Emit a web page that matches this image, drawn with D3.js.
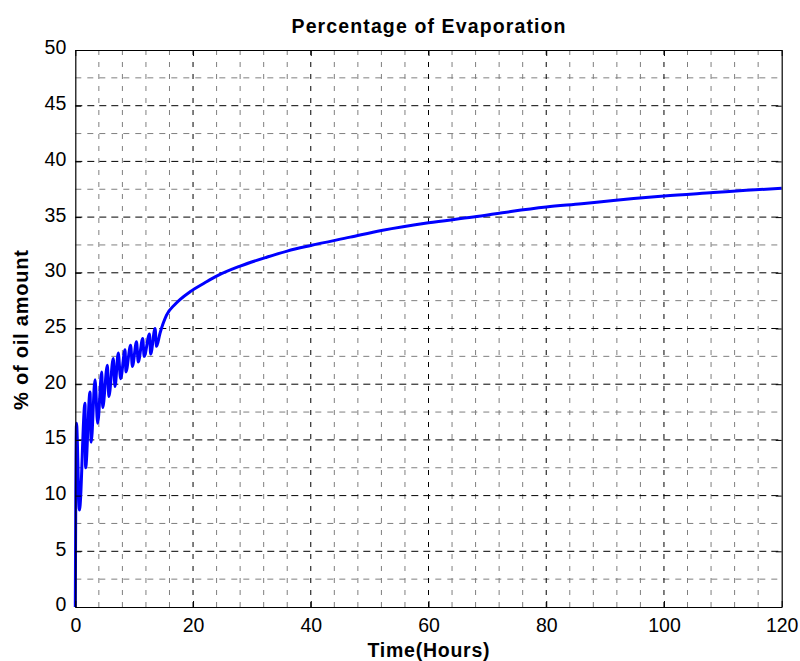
<!DOCTYPE html>
<html>
<head>
<meta charset="utf-8">
<script src="https://cdn.jsdelivr.net/npm/d3@7"></script>
<style>
  html, body { margin: 0; padding: 0; background: #fff; }
  svg { display: block; }
  text { font-family: "Liberation Sans", Arial, Helvetica, sans-serif; fill: #000; }
</style>
</head>
<body>
<svg id="chart" width="800" height="661"></svg>
<script>
// ---- data ----
const timeHours = [0, 0.08, 0.2, 0.7, 1.65, 1.75, 2.5, 2.7, 3.35, 3.8, 4.5, 4.65, 5.45, 5.7, 6.45, 6.75,
  7.3, 7.7, 8.45, 8.6, 9.4, 9.7, 10.4, 10.7, 11.45, 11.7, 12.6, 12.8, 13.55, 13.8, 14.4, 15.5, 17, 19.5,
  22, 24, 28, 32.5, 36, 40, 46.7, 52, 60, 67.6, 74, 80, 86, 91.4, 100, 108.4, 114, 120];
const evapPercent = [0, 10, 16.5, 8.7, 18.3, 12.5, 19.3, 14.8, 20.4, 16.5, 21.1, 17.9, 21.7, 18.9, 22.3, 19.8,
  22.8, 20.5, 23.1, 21.1, 23.5, 21.6, 23.8, 22.0, 24.1, 22.5, 24.5, 22.7, 25.0, 23.4, 24.6, 26.2, 27.2, 28.3,
  29.1, 29.7, 30.6, 31.4, 31.95, 32.45, 33.2, 33.8, 34.5, 35.0, 35.5, 35.9, 36.2, 36.5, 36.9, 37.2, 37.4, 37.6];
const xTicks = [0, 20, 40, 60, 80, 100, 120];
const yTicks = [0, 5, 10, 15, 20, 25, 30, 35, 40, 45, 50];
const xMinor = [4, 8, 12, 16, 24, 28, 32, 36, 44, 48, 52, 56, 64, 68, 72, 76, 84, 88, 92, 96, 104, 108, 112, 116];
const yMinor = [2.5, 7.5, 12.5, 17.5, 22.5, 27.5, 32.5, 37.5, 42.5, 47.5];
const titleText = "Percentage of Evaporation";
const xLabelText = "Time(Hours)";
const yLabelText = "% of oil amount";

// ---- layout ----
const L = 75.3, R = 781.7, T = 50, B = 607;
const svg = d3.select("#chart");
const x = d3.scaleLinear().domain([0, 120]).range([L, R]);
const y = d3.scaleLinear().domain([0, 50]).range([B, T]);

const grid = svg.append("g");
// minor grid (gray)
grid.selectAll(".vmin").data(xMinor).join("line")
  .attr("x1", d => x(d)).attr("x2", d => x(d)).attr("y1", B).attr("y2", T)
  .attr("stroke", "#7f7f7f").attr("stroke-width", 1).attr("stroke-dasharray", "5,7");
grid.selectAll(".hmin").data(yMinor).join("line")
  .attr("x1", L).attr("x2", R).attr("y1", d => y(d)).attr("y2", d => y(d))
  .attr("stroke", "#7f7f7f").attr("stroke-width", 1).attr("stroke-dasharray", "6,6");
// major grid (black)
grid.selectAll(".vmaj").data(xTicks.slice(1, -1)).join("line")
  .attr("x1", d => x(d)).attr("x2", d => x(d)).attr("y1", B).attr("y2", T)
  .attr("stroke", "#000").attr("stroke-width", 1).attr("stroke-dasharray", "5,7");
grid.selectAll(".hmaj").data(yTicks.slice(1, -1)).join("line")
  .attr("x1", L).attr("x2", R).attr("y1", d => y(d)).attr("y2", d => y(d))
  .attr("stroke", "#000").attr("stroke-width", 1).attr("stroke-dasharray", "7,5");

// data line
const line = d3.line().x((d, i) => x(timeHours[i])).y(d => y(d)).curve(d3.curveMonotoneX);
svg.append("path").datum(evapPercent)
  .attr("d", line).attr("fill", "none")
  .attr("stroke", "#0000ff").attr("stroke-width", 3).attr("stroke-linejoin", "round");

// axes (D3 axes with inward ticks, box)
const xAxis = svg.append("g").attr("transform", `translate(0,${B})`)
  .call(d3.axisBottom(x).tickValues(xTicks).tickSizeInner(-6).tickSizeOuter(0).tickPadding(11));
const xAxisTop = svg.append("g").attr("transform", `translate(0,${T})`)
  .call(d3.axisTop(x).tickValues(xTicks).tickSizeInner(-6).tickSizeOuter(0).tickFormat(""));
const yAxis = svg.append("g").attr("transform", `translate(${L},0)`)
  .call(d3.axisLeft(y).tickValues(yTicks).tickSizeInner(-6).tickSizeOuter(0).tickPadding(9));
const yAxisRight = svg.append("g").attr("transform", `translate(${R},0)`)
  .call(d3.axisRight(y).tickValues(yTicks).tickSizeInner(-6).tickSizeOuter(0).tickFormat(""));
[xAxis, xAxisTop, yAxis, yAxisRight].forEach(g => {
  g.select(".domain").attr("stroke", "#000").attr("stroke-width", 1.2);
  g.selectAll(".tick line").attr("stroke", "#000");
  g.selectAll("text").style("font-family", '"Liberation Sans", Arial, sans-serif')
    .style("font-size", "19.5px").attr("fill", "#000");
});
yAxis.selectAll("text").attr("dy", "0.2em");

// title and labels
svg.append("text").attr("x", (L + R) / 2).attr("y", 33)
  .attr("text-anchor", "middle").style("font-size", "19.5px").style("font-weight", "bold")
  .attr("textLength", 274).attr("lengthAdjust", "spacing").text(titleText);
svg.append("text").attr("x", (L + R) / 2).attr("y", 657)
  .attr("text-anchor", "middle").style("font-size", "19.5px").style("font-weight", "bold")
  .attr("textLength", 122).attr("lengthAdjust", "spacing").text(xLabelText);
svg.append("text").attr("transform", `translate(28,${330}) rotate(-90)`)
  .attr("text-anchor", "middle").style("font-size", "20px").style("font-weight", "bold")
  .attr("textLength", 160).attr("lengthAdjust", "spacing").text(yLabelText);
</script>
</body>
</html>
